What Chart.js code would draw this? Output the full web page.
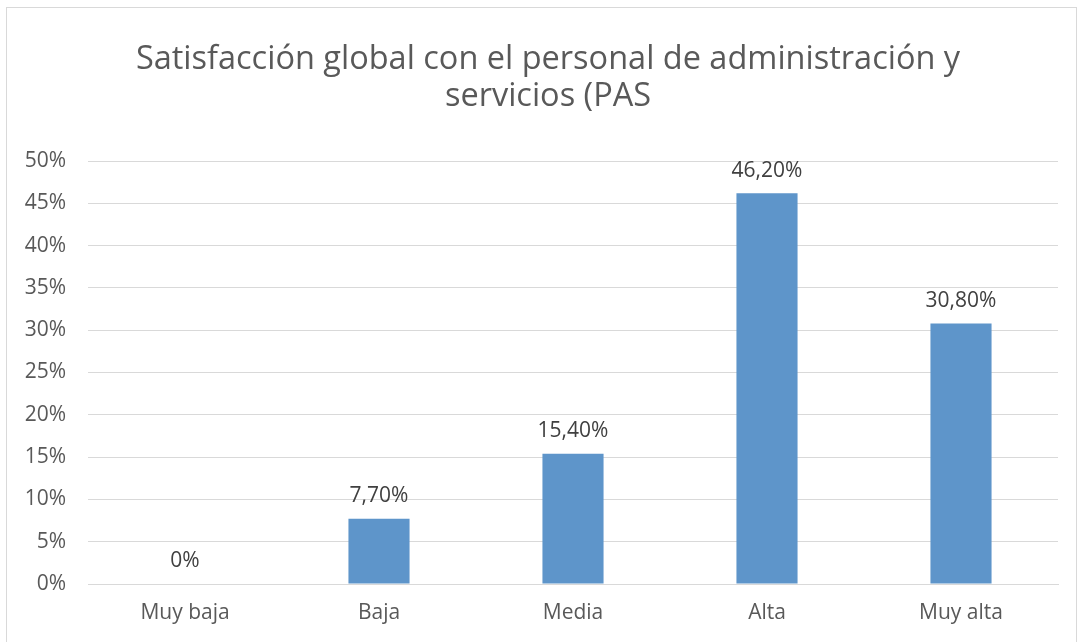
<!DOCTYPE html>
<html>
<head>
<meta charset="utf-8">
<script src="https://cdn.jsdelivr.net/npm/chart.js@4/dist/chart.umd.min.js"></script>
<style>
  body { margin: 0; background: #fff; }
  #wrap { position: relative; width: 1083px; height: 642px; }
</style>
</head>
<body>
<div id="wrap"><canvas id="myChart" width="1083" height="642"></canvas></div>
<script>
// chart data
const categories = ["Muy baja", "Baja", "Media", "Alta", "Muy alta"];
const values = [0, 7.7, 15.4, 46.2, 30.8];
const titleLines = ["Satisfacción global con el personal de administración y", "servicios (PAS"];

const fontFamily = "'Open Sans', sans-serif";

function formatValue(v) {
   if (v === 0) return "0%";
   return v.toFixed(2).replace(".", ",") + "%";
}

// border, title (sits a bit right of the canvas centre) and value labels
const extras = {
   id: "extras",
   beforeDraw(chart) {
      const ctx = chart.ctx;
      ctx.save();
      ctx.strokeStyle = "#d9d9d9";
      ctx.lineWidth = 1;
      ctx.strokeRect(6.5, 7.5, 1070, 660);
      ctx.fillStyle = "#595959";
      ctx.font = "32.5px " + fontFamily;
      ctx.textAlign = "center";
      ctx.textBaseline = "middle";
      titleLines.forEach((line, i) => {
         ctx.fillText(line, 548, 60 + i * 37);
      });
      ctx.restore();
   },
   afterDatasetsDraw(chart) {
      const ctx = chart.ctx;
      const meta = chart.getDatasetMeta(0);
      ctx.save();
      ctx.fillStyle = "#404040";
      ctx.font = "21px " + fontFamily;
      ctx.textAlign = "center";
      ctx.textBaseline = "bottom";
      meta.data.forEach((bar, i) => {
         ctx.fillText(formatValue(values[i]), bar.x, bar.y - 12);
      });
      ctx.restore();
   }
};

const ctx = document.getElementById("myChart").getContext("2d");
const myChart = new Chart(ctx, {
   type: "bar",
   data: {
      labels: categories,
      datasets: [{
         data: values,
         backgroundColor: "#5E95CA",
         borderWidth: 0,
         categoryPercentage: 1,
         barPercentage: 0.315
      }]
   },
   options: {
      responsive: false,
      animation: false,
      layout: { padding: { left: 13, right: 25, top: 161, bottom: 0 } },
      plugins: {
         legend: { display: false },
         tooltip: { enabled: false },
         title: { display: false }
      },
      scales: {
         x: {
            grid: { display: false, drawTicks: false },
            border: { display: true, color: "#d9d9d9", width: 1 },
            ticks: { color: "#595959", font: { family: fontFamily, size: 21 }, padding: 16 },
            afterFit(scale) { scale.height = 58; }
         },
         y: {
            min: 0,
            max: 50,
            ticks: {
               stepSize: 5,
               color: "#595959",
               font: { family: fontFamily, size: 21 },
               padding: 22,
               callback: (v) => v + "%"
            },
            grid: { color: "#d9d9d9", lineWidth: 1, drawTicks: false },
            border: { display: false },
            afterFit(scale) { scale.width = 75; }
         }
      }
   },
   plugins: [extras]
});
</script>
</body>
</html>
